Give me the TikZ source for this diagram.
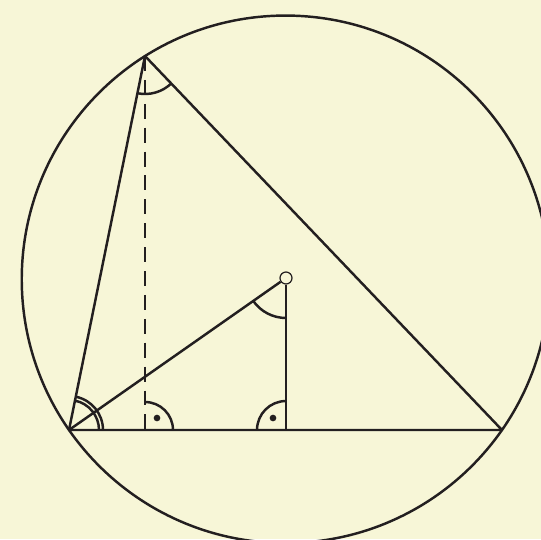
\documentclass[tikz,border=0pt]{standalone}
\usepackage{tikz}
\usetikzlibrary{angles,calc}

\definecolor{paper}{HTML}{F7F6D7}
\definecolor{ink}{HTML}{231F20}

\begin{document}
\begin{tikzpicture}[
  x=0.02cm, y=-0.02cm,
  line width=1.4pt, draw=ink, line join=round,
  seg/.style={draw=ink, line width=1.4pt},
  alt/.style={seg, dash pattern=on 8.5pt off 5.1pt},
  arcmark/.style={draw=ink, line width=1.4pt, angle radius=#1},
  centre/.style={circle, draw=ink, fill=paper, line width=0.7pt, minimum size=0.24cm, inner sep=0pt},
  spot/.style={circle, fill=ink, minimum size=3.8pt, inner sep=0pt}]
\useasboundingbox (0,0) rectangle (541,539);
\fill[paper] (0,0) rectangle (541,539);
\clip (0,0) rectangle (541,539);
% points
\coordinate (A) at (69,430);
\coordinate (B) at (502,430);
\coordinate (C) at (145,56);
\coordinate (H) at (145,430);
\coordinate (M) at (286,430);
\coordinate (Oc) at (286,278);
% circumcircle
\draw[seg] (285.5,279.3) circle (5.276cm);
% triangle
\draw[seg] (A) -- (B) -- (C) -- cycle;
\draw[alt] (C) -- (H);
% angle marks
\pic[arcmark=0.6cm] {angle=B--A--C};
\pic[arcmark=0.68cm] {angle=B--A--C};
\pic[arcmark=0.76cm] {angle=A--C--B};
\pic[arcmark=0.56cm] {angle=B--H--C};
\pic[arcmark=0.58cm] {angle=Oc--M--A};
\pic[arcmark=0.8cm] {angle=A--Oc--M};
\node[spot] (dh) at (157,418) {};
\node[spot] (dm) at (273,418) {};
% centre and its segments
\node[centre] (O) at (Oc) {};
\draw[seg] (A) -- (O);
\draw[seg] (O) -- (M);
\end{tikzpicture}
\end{document}
